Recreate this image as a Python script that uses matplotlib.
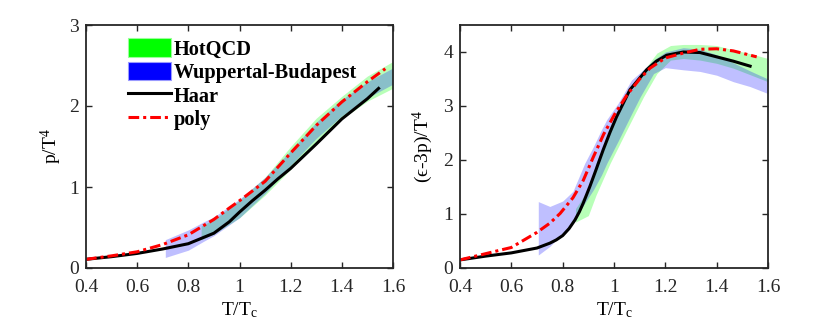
import matplotlib
matplotlib.use("Agg")
import matplotlib.pyplot as plt
from matplotlib.patches import Patch
from matplotlib.lines import Line2D

plt.rcParams['font.family'] = ['Liberation Serif', 'DejaVu Serif']
plt.rcParams['mathtext.fontset'] = 'custom'
plt.rcParams['mathtext.rm'] = 'Liberation Serif'
plt.rcParams['mathtext.it'] = 'Liberation Serif:italic'
plt.rcParams['mathtext.bf'] = 'Liberation Serif:bold'

# ---------------- Left panel: p/T^4 ----------------
p_haar_x = [0.4, 0.5, 0.6, 0.7, 0.8, 0.9, 0.96, 1.0, 1.05, 1.1, 1.15, 1.2, 1.3, 1.4, 1.5, 1.548]
p_haar_y = [0.107, 0.14, 0.18, 0.235, 0.30, 0.43, 0.57, 0.69, 0.83, 0.96, 1.10, 1.23, 1.53, 1.84, 2.09, 2.23]

p_poly_x = [0.4, 0.5, 0.6, 0.7, 0.8, 0.9, 0.96, 1.0, 1.1, 1.2, 1.3, 1.4, 1.5, 1.57]
p_poly_y = [0.107, 0.15, 0.20, 0.29, 0.41, 0.60, 0.74, 0.83, 1.07, 1.42, 1.76, 2.05, 2.30, 2.46]

p_wb_x = [0.71, 0.8, 0.86, 0.9, 1.0, 1.1, 1.2, 1.3, 1.4, 1.5, 1.6]
p_wb_lo = [0.13, 0.22, 0.33, 0.40, 0.62, 0.92, 1.27, 1.60, 1.88, 2.10, 2.27]
p_wb_hi = [0.35, 0.47, 0.57, 0.63, 0.85, 1.12, 1.45, 1.80, 2.08, 2.30, 2.47]

p_hq_x = [0.85, 0.9, 1.0, 1.1, 1.2, 1.3, 1.4, 1.5, 1.6]
p_hq_lo = [0.35, 0.42, 0.62, 0.90, 1.22, 1.55, 1.84, 2.06, 2.22]
p_hq_hi = [0.52, 0.60, 0.84, 1.12, 1.50, 1.85, 2.12, 2.37, 2.55]

# ---------------- Right panel: (e-3p)/T^4 ----------------
i_haar_x = [0.4, 0.5, 0.6, 0.7, 0.75, 0.775, 0.8, 0.825, 0.848, 0.865, 0.88, 0.906, 0.93, 0.958, 0.985, 1.01, 1.062, 1.127, 1.165, 1.205, 1.27, 1.335, 1.4, 1.465, 1.536]
i_haar_y = [0.15, 0.22, 0.28, 0.37, 0.46, 0.52, 0.60, 0.73, 0.89, 1.04, 1.20, 1.51, 1.82, 2.19, 2.52, 2.80, 3.30, 3.67, 3.83, 3.94, 4.00, 3.99, 3.91, 3.83, 3.73]

i_poly_x = [0.4, 0.53, 0.6, 0.7, 0.75, 0.79, 0.84, 0.88, 0.919, 0.96, 1.003, 1.05, 1.1, 1.14, 1.2, 1.27, 1.335, 1.4, 1.465, 1.556]
i_poly_y = [0.15, 0.30, 0.38, 0.66, 0.83, 1.01, 1.30, 1.62, 2.05, 2.48, 2.85, 3.20, 3.50, 3.70, 3.89, 3.98, 4.05, 4.06, 4.02, 3.91]

i_wb_x = [0.705, 0.75, 0.8, 0.84, 0.886, 0.92, 0.951, 0.972, 1.016, 1.068, 1.102, 1.154, 1.2, 1.27, 1.335, 1.4, 1.465, 1.53, 1.6]
i_wb_lo = [0.24, 0.40, 0.64, 0.85, 1.20, 1.45, 1.72, 1.94, 2.35, 2.85, 3.17, 3.60, 3.71, 3.67, 3.64, 3.57, 3.45, 3.36, 3.23]
i_wb_hi = [1.23, 1.14, 1.24, 1.42, 1.94, 2.25, 2.56, 2.75, 3.05, 3.48, 3.62, 3.85, 4.00, 4.08, 4.05, 3.95, 3.80, 3.65, 3.50]

i_hq_x = [0.85, 0.9, 0.93, 0.985, 1.05, 1.115, 1.167, 1.22, 1.27, 1.335, 1.4, 1.465, 1.53, 1.6]
i_hq_lo = [0.85, 0.97, 1.35, 1.94, 2.56, 3.17, 3.60, 3.85, 3.88, 3.85, 3.79, 3.70, 3.58, 3.45]
i_hq_hi = [1.10, 1.45, 1.94, 2.55, 3.15, 3.65, 3.98, 4.12, 4.14, 4.14, 4.12, 4.04, 3.97, 3.88]

x_ticks = [0.4, 0.6, 0.8, 1.0, 1.2, 1.4, 1.6]
x_ticklabels = ['0.4', '0.6', '0.8', '1', '1.2', '1.4', '1.6']
legend_labels = ['HotQCD', 'Wuppertal-Budapest', 'Haar', 'poly']

fig = plt.figure(figsize=(8.3, 3.33), dpi=100)
axL = fig.add_axes([86/830, 1-268/333, 307/830, 243/333])
axR = fig.add_axes([460/830, 1-268/333, 308/830, 243/333])

dash = (3.5, 1.3, 1.0, 1.3)
LW = 2.2

def style(ax, ylim, yticks):
    ax.set_xlim(0.4, 1.6)
    ax.set_ylim(*ylim)
    ax.set_xticks(x_ticks)
    ax.set_xticklabels(x_ticklabels)
    ax.set_yticks(yticks)
    ax.set_yticklabels([str(v) for v in yticks])
    ax.tick_params(direction='in', top=True, right=True, length=4, width=1.0,
                   labelsize=14, colors='#262626')
    ax.tick_params(axis='x', pad=8)
    ax.tick_params(axis='y', pad=5)
    for s in ax.spines.values():
        s.set_linewidth(1.3)
        s.set_color('#262626')
    ax.set_xlabel('T/T$_\\mathregular{c}$', fontsize=14, labelpad=3)

for ax, hx, hy, px, py, wx, wlo, whi, qx, qlo, qhi in [
        (axL, p_haar_x, p_haar_y, p_poly_x, p_poly_y, p_wb_x, p_wb_lo, p_wb_hi, p_hq_x, p_hq_lo, p_hq_hi),
        (axR, i_haar_x, i_haar_y, i_poly_x, i_poly_y, i_wb_x, i_wb_lo, i_wb_hi, i_hq_x, i_hq_lo, i_hq_hi)]:
    ax.fill_between(qx, qlo, qhi, color=(0, 1, 0), alpha=0.28, lw=0)
    ax.fill_between(wx, wlo, whi, color=(0, 0, 1), alpha=0.25, lw=0)
    ax.plot(hx, hy, color='black', lw=LW, solid_capstyle='butt', solid_joinstyle='round')
    ax.plot(px, py, color='red', lw=LW, dashes=dash)

style(axL, (0, 3), [0, 1, 2, 3])
style(axR, (0, 4.5), [0, 1, 2, 3, 4])
axL.set_ylabel('p/T$^\\mathregular{4}$', fontsize=14, labelpad=4)
axR.set_ylabel('(\u03f5-3p)/T$^\\mathregular{4}$', fontsize=14, labelpad=6)

handles = [Patch(facecolor=(0, 1, 0), edgecolor=(0.6, 1, 0.6), lw=0.8),
           Patch(facecolor=(0, 0, 1), edgecolor=(0.6, 0.6, 1), lw=0.8),
           Line2D([], [], color='black', lw=LW),
           Line2D([], [], color='red', lw=LW, dashes=dash)]
leg = axL.legend(handles, legend_labels, loc='upper left', bbox_to_anchor=(0.093, 1.0),
                 frameon=False, prop={'weight': 'bold', 'size': 14.7},
                 handlelength=2.1, handleheight=1.0, handletextpad=0.15,
                 labelspacing=0.12, borderaxespad=0.25)

fig.savefig('out.png', dpi=100)
